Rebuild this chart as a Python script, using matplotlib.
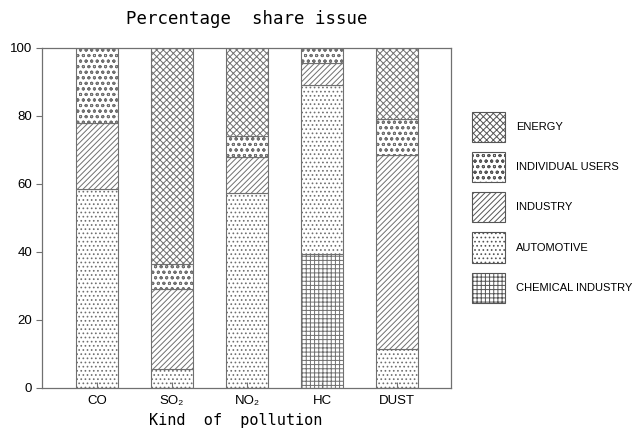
import numpy as np
import matplotlib.pyplot as plt
from matplotlib.patches import Patch

# data (percent of each pollutant)
kinds = ['CO', 'SO₂', 'NO₂', 'HC', 'DUST']
chemical = [0, 0, 0, 39.5, 0]
automotive = [58.5, 5.5, 57.5, 49.5, 11.5]
industry = [19.5, 23.5, 10.5, 6.5, 57.0]
individual = [22.0, 7.5, 6.0, 4.5, 10.5]
energy = [0, 63.5, 26.0, 0, 21.0]

series = [
    ('CHEMICAL INDUSTRY', chemical, '++++'),
    ('AUTOMOTIVE', automotive, '....'),
    ('INDUSTRY', industry, '//////'),
    ('INDIVIDUAL USERS', individual, 'ooo'),
    ('ENERGY', energy, 'xxxxx'),
]

plt.rcParams['font.family'] = ['Liberation Sans', 'DejaVu Sans']
plt.rcParams['hatch.linewidth'] = 0.7
plt.rcParams['hatch.color'] = '#555555'

EDGE = '#707070'

fig = plt.figure(figsize=(6.37, 4.33), dpi=100)
ax = fig.add_axes([42/637, 1-388/433, (451-42)/637, (388-48)/433])

x = np.arange(len(kinds))
bottom = np.zeros(len(kinds))
for name, vals, hatch in series:
    vals = np.array(vals, dtype=float)
    ax.bar(x, vals, width=0.56, bottom=bottom, color='white', edgecolor=EDGE,
           hatch=hatch, linewidth=0.8)
    bottom += vals

ax.set_xlim(-0.733, 4.72)
ax.set_ylim(0, 100)
ax.set_yticks([0, 20, 40, 60, 80, 100])
ax.set_xticks(x)
ax.set_xticklabels(kinds, fontsize=9.5)
ax.tick_params(axis='y', direction='out', length=4, color=EDGE, labelsize=9.5, pad=3)
ax.tick_params(axis='x', direction='in', length=4, color=EDGE, pad=5)
for s in ax.spines.values():
    s.set_color(EDGE)
    s.set_linewidth(0.9)

ax.set_title('Percentage  share issue', fontsize=12.5, family='DejaVu Sans Mono', pad=17)
ax.set_xlabel('Kind  of  pollution', fontsize=11, family='DejaVu Sans Mono')
ax.xaxis.set_label_coords((236-42)/409, -0.075)

handles = [Patch(facecolor='white', edgecolor='#555555', hatch=h, linewidth=0.8, label=n)
           for n, v, h in series[::-1]]
fig.legend(handles=handles, loc='upper left', bbox_to_anchor=(472/637, 1-112/433),
           bbox_transform=fig.transFigure, frameon=False, fontsize=8,
           handlelength=2.97, handleheight=3.8, labelspacing=0.9,
           handletextpad=1.0, borderpad=0, borderaxespad=0)

fig.savefig('out.png', dpi=100, facecolor='white')
